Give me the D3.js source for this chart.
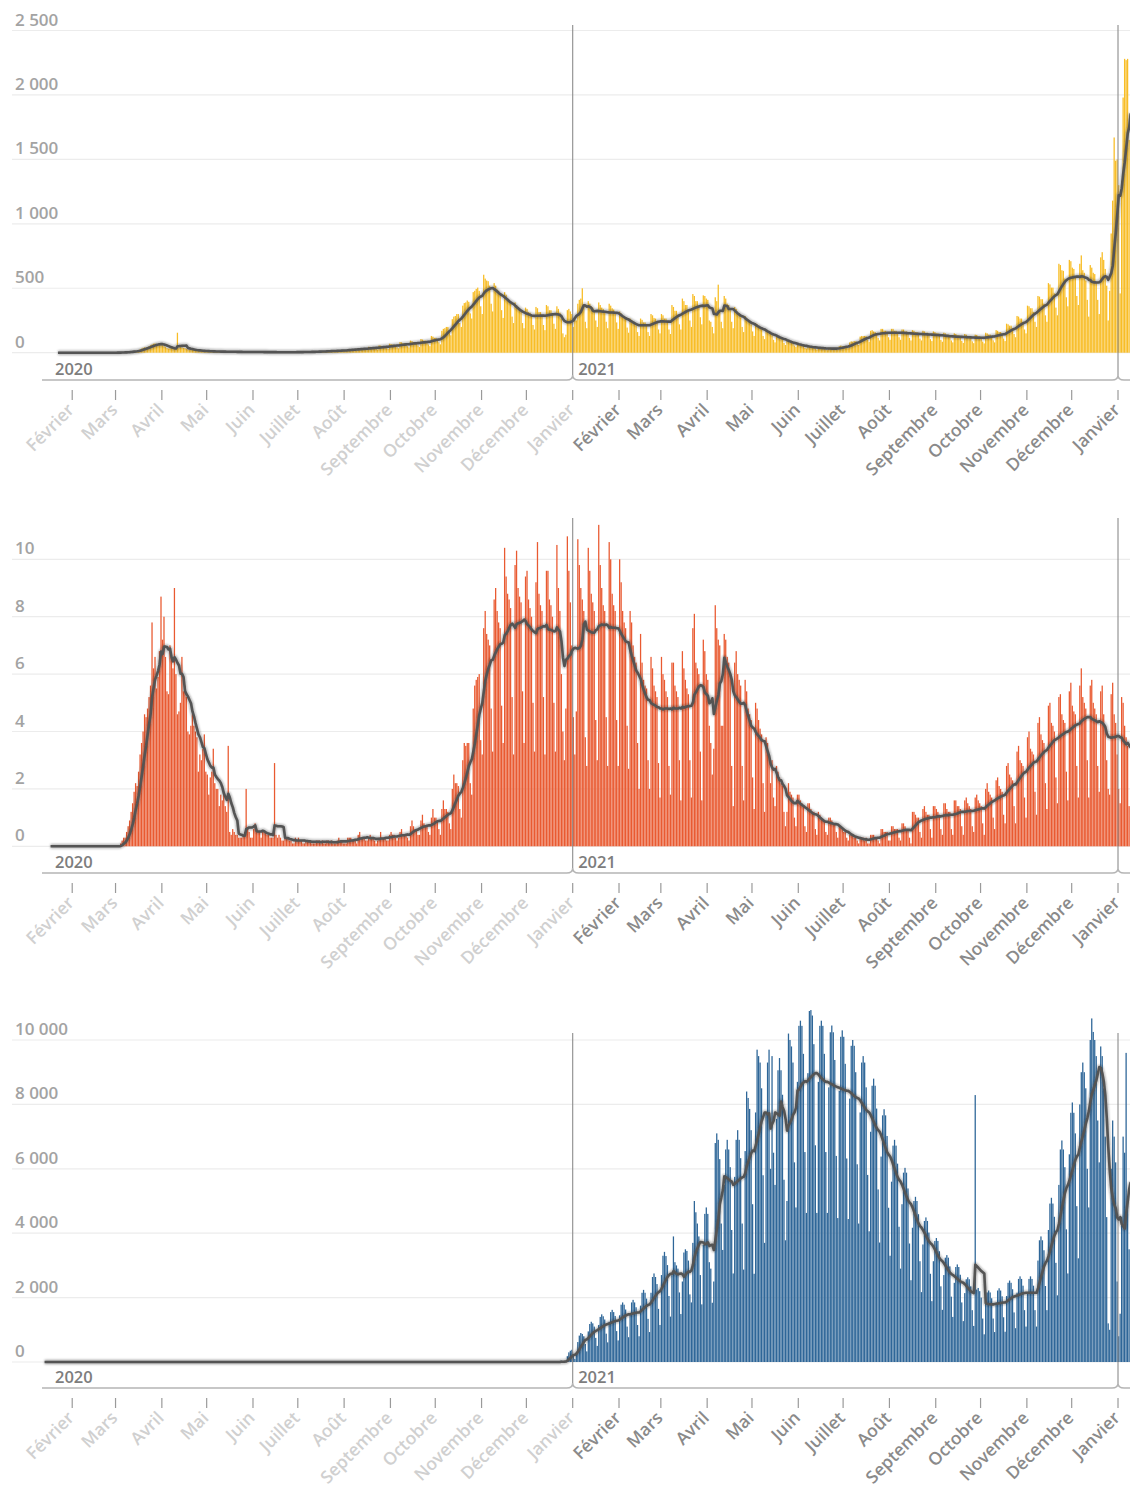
<!DOCTYPE html>
<html><head><meta charset="utf-8">
<script src="https://cdn.jsdelivr.net/npm/d3@7"></script>
<style>
html,body{margin:0;padding:0;background:#fff;}
svg{display:block;font-family:"Open Sans",sans-serif;}
</style></head><body>
<svg id="chart" width="1130" height="1490"></svg>
<script>
// ---------- DATA ----------
const monthNames = ["Janvier","Février","Mars","Avril","Mai","Juin","Juillet","Août","Septembre","Octobre","Novembre","Décembre"];
const yearLabels = ["2020","2021"];

const casesTicks = [0,500,1000,1500,2000,2500];
const deathsTicks = [0,2,4,6,8,10];
const vaccTicks = [0,2000,4000,6000,8000,10000];

// Panel 1 (yellow): daily values from 2020-01-22
const casesStart = "2020-01-22";
const casesDaily = [
0,0,0,0,0,
0,0,0,0,0,0,0, 0,0,0,0,0,0,0, 0,0,0,0,0,0,0, 0,0,0,0,0,0,0, 0,0,0,0,1,0,0,
1,2,2,3,4,3,4, 6,8,10,12,14,13,15, 20,26,32,38,42,40,44, 50,58,64,70,72,66,62, 70,66,58,50,44,36,32,
34,36,34,30,28,155,40, 45,40,38,35,30,25,22, 24,22,20,18,16,13,12, 15,14,13,12,11,9,8,
11,10,10,9,8,7,6, 9,9,8,8,7,6,5, 8,7,7,6,6,5,4, 7,6,6,5,5,4,4,
6,6,5,5,5,4,3, 5,5,5,4,4,3,3, 5,5,4,4,4,3,3, 5,5,4,4,4,3,3, 5,6,5,5,5,4,4,
7,8,7,7,7,5,5, 11,12,11,10,10,8,7, 15,16,15,14,14,11,10, 20,21,19,19,18,14,12,
28,29,27,27,25,19,17, 36,36,34,33,31,24,20, 46,45,42,42,38,29,24, 57,55,51,51,46,34,28, 70,67,62,62,56,42,34,
82,80,73,73,66,50,40, 94,90,83,83,75,56,45, 106,102,94,94,85,64,51, 130,125,115,115,105,80,65,
170,185,190,200,200,160,135, 260,280,285,300,300,230,200, 365,385,390,405,395,305,265, 470,480,495,505,480,360,300,
605,575,560,555,520,380,320, 540,520,490,480,450,330,270, 470,450,420,410,380,280,230, 390,370,350,340,320,230,190, 350,340,315,310,290,215,180,
355,345,315,315,290,215,175, 370,360,330,330,300,225,185, 360,340,310,260,150,120,140, 330,340,320,300,200,260,250,
// 2021
380,410,420,500,360,240,190, 400,380,360,350,330,250,200, 390,370,350,340,320,240,190, 380,365,345,335,315,235,185,
320,305,285,280,260,195,155, 265,255,235,235,210,160,130, 265,255,235,235,210,160,130, 300,290,270,265,245,180,150,
300,290,265,265,240,180,145, 370,355,325,325,295,220,180, 420,400,370,370,335,250,200, 455,440,400,400,365,275,220, 445,440,420,410,250,240,200,
150,430,400,528,330,240,190, 440,420,380,370,330,240,190, 355,340,310,305,275,200,160, 285,270,250,245,220,165,130,
230,220,200,200,180,130,105, 175,170,155,150,135,100,80, 135,125,115,115,100,75,60, 95,90,82,80,72,55,44, 68,64,58,58,52,38,32,
52,48,44,44,40,30,24, 42,40,36,36,33,24,20, 38,38,35,35,32,26,22, 50,55,50,52,50,40,35,
80,88,85,90,88,70,60, 125,130,128,130,128,100,85, 170,175,165,160,150,115,95, 185,185,170,170,155,120,100,
185,185,170,170,155,120,100, 180,180,165,165,150,115,95, 175,170,160,160,145,110,95, 170,165,155,155,140,105,90, 165,160,150,150,135,100,85,
155,150,140,140,125,95,80, 150,145,135,135,122,92,76, 145,140,130,130,118,88,74, 140,138,128,128,115,86,72,
155,150,140,140,128,96,80, 175,170,160,160,145,110,90, 225,220,210,210,190,145,120, 285,280,265,265,240,180,150,
365,360,345,345,315,240,200, 440,435,415,415,380,290,240, 540,530,505,505,460,350,290, 690,680,640,635,575,430,360, 720,710,660,650,590,440,370,
690,755,640,620,560,410,280, 680,660,620,610,550,410,300, 740,780,720,650,520,250,480, 925,1180,1670,1490,1500,1300,460,
// 2022
1335,1980,2280,2270,2280,1650,1200
];

// Panel 2 (red): daily values from 2020-01-17
const deathsStart = "2020-01-17";
const deathsDaily = [
0,0,0,
0,0,0,0,0,0,0, 0,0,0,0,0,0,0, 0,0,0,0,0,0,0, 0,0,0,0,0,0,0, 0,0,0,0,0,0,0, 0,0,0,0,0,0,0,
0,0,0.1,0.2,0.3,0.3,0.5, 0.7,0.9,1.2,1.5,1.9,2.2,2.1, 2.6,3.2,3.6,4.0,4.6,4.5,4.8, 5.2,5.6,7.8,6.2,6.6,5.5,5.9, 6.8,8.7,7.2,8.0,6.6,5.4,5.3,
7.0,6.6,6.2,9.0,6.0,4.6,4.7, 5.0,6.6,5.4,5.6,5.2,4.0,3.9, 4.2,4.6,4.2,4.0,3.8,2.6,3.2, 3.0,3.4,3.9,2.6,2.5,1.8,2.4,
2.6,3.4,2.2,2.0,2.0,1.4,1.8, 1.6,1.9,1.4,1.2,3.5,0.5,0.4, 0.6,0.5,0.4,0.4,0.3,0.3,0.3, 0.4,0.5,2.0,0.6,0.5,0.3,0.3,
0.6,0.8,0.6,0.5,0.5,0.3,0.5, 0.5,0.5,0.4,0.4,0.3,0.3,0.3, 2.9,0.4,0.3,0.4,0.3,0.2,0.2, 0.3,0.3,0.3,0.2,0.2,0.1,0.1, 0.3,0.2,0.3,0.2,0.2,0.1,0.1,
0.2,0.2,0.2,0.2,0.1,0.1,0.1, 0.2,0.2,0.2,0.1,0.2,0.1,0.1, 0.2,0.2,0.1,0.2,0.1,0.1,0.1, 0.2,0.3,0.2,0.2,0.1,0.1,0.1,
0.3,0.3,0.3,0.2,0.2,0.2,0.1, 0.4,0.5,0.3,0.3,0.3,0.2,0.2, 0.3,0.4,0.3,0.3,0.2,0.1,0.2, 0.3,0.5,0.3,0.3,0.3,0.2,0.2, 0.4,0.5,0.4,0.4,0.3,0.2,0.3,
0.5,0.6,0.4,0.4,0.4,0.3,0.2, 0.7,0.9,0.7,0.6,0.6,0.4,0.4, 0.9,1.1,0.8,0.7,0.7,0.5,0.4, 1.0,1.3,1.0,1.0,0.9,0.6,0.4,
1.3,1.6,1.3,1.3,1.2,0.8,0.6, 2.0,2.5,2.2,2.2,2.1,1.3,1.0, 3.0,3.6,3.5,3.6,3.6,2.2,1.8, 4.8,5.6,5.8,5.9,6.0,3.7,3.2,
7.6,8.2,7.4,7.2,7.0,4.8,3.3, 8.6,9.0,8.2,7.8,7.6,4.9,3.6, 10.4,9.4,8.8,8.6,8.3,5.2,3.2, 9.8,10.3,9.0,8.7,8.5,5.4,3.6, 9.4,9.6,8.6,8.3,8.0,5.0,3.3,
9.2,10.6,8.8,8.4,8.2,5.2,3.2, 9.6,9.6,8.6,8.4,8.0,5.0,3.3, 10.5,9.0,8.2,6.0,4.0,3.0,4.8, 10.8,9.6,8.5,7.0,4.5,3.2,4.7,
// 2021
10.7,9.8,9.0,8.6,8.2,3.8,2.8, 10.4,9.6,8.8,8.5,8.2,4.4,3.0, 11.2,9.8,9.0,8.4,8.2,4.5,2.8, 10.6,10.0,8.8,8.4,8.2,4.4,2.8,
10.0,9.2,8.2,7.8,7.6,4.2,2.7, 8.2,7.8,7.0,6.6,6.4,3.6,2.0, 7.4,6.4,5.8,5.6,5.5,3.0,2.0, 6.6,6.2,5.6,5.4,5.2,2.9,1.7,
6.6,6.0,5.8,5.4,5.2,2.8,1.8, 6.4,6.4,5.6,5.4,5.2,3.0,1.6, 6.8,6.2,5.8,5.5,5.3,3.0,1.7, 7.6,8.1,6.4,6.2,6.0,3.3,1.6, 7.2,6.8,6.0,5.8,4.2,3.6,2.5,
3.4,8.4,7.6,7.2,7.0,4.2,4.2, 7.4,7.2,6.6,6.4,6.0,2.8,1.4, 6.4,6.8,6.0,5.8,5.6,2.8,1.6, 5.8,5.4,4.8,4.6,4.4,2.4,1.3,
5.0,4.8,4.4,4.1,3.9,2.2,1.2, 3.8,3.6,3.2,2.2,3.0,1.7,1.4, 2.8,2.6,2.4,2.2,2.1,1.2,0.7, 1.2,2.2,1.9,1.8,1.7,1.0,0.7, 1.8,1.8,1.6,1.5,1.4,0.7,0.5,
1.5,1.5,1.3,1.2,1.2,0.6,0.4, 1.2,1.1,1.0,0.9,0.9,0.5,0.4, 1.0,1.0,0.9,0.8,0.8,0.5,0.3, 0.7,0.7,0.6,0.5,0.5,0.3,0.2,
0.4,0.4,0.4,0.3,0.3,0.2,0.1, 0.3,0.3,0.3,0.2,0.3,0.1,0.1, 0.4,0.4,0.4,0.3,0.3,0.2,0.1, 0.6,0.6,0.5,0.5,0.5,0.2,0.2,
0.7,0.7,0.6,0.6,0.6,0.3,0.2, 0.8,0.8,0.7,0.6,0.6,0.3,0.1, 1.2,1.2,1.1,1.0,1.0,0.5,0.3, 1.3,1.4,1.2,1.1,1.1,0.6,0.3, 1.4,1.4,1.3,1.2,1.1,0.6,0.4,
1.5,1.5,1.3,1.2,1.2,0.6,0.4, 1.6,1.6,1.4,1.4,1.3,0.7,0.4, 1.6,1.7,1.5,1.4,1.3,0.7,0.5, 1.7,1.8,1.6,1.5,1.4,0.8,0.4,
2.0,2.2,1.9,1.8,1.7,1.0,0.6, 2.3,2.4,2.1,2.0,1.9,1.1,0.8, 2.8,2.9,2.5,2.4,2.3,1.4,0.8, 3.3,3.5,3.0,2.9,2.8,1.7,1.0,
3.8,4.0,3.4,3.3,3.2,1.9,1.1, 4.3,4.5,3.9,3.7,3.6,2.2,1.3, 4.9,5.0,4.3,4.2,4.0,2.4,1.5, 5.2,5.3,4.6,4.4,4.3,2.6,1.6, 5.4,5.7,4.9,4.7,4.6,2.8,1.7,
5.6,6.2,5.2,5.0,4.8,3.0,1.7, 5.6,5.8,5.0,4.8,4.6,2.8,1.9, 5.4,5.6,4.6,4.2,3.0,2.0,1.8, 5.3,5.7,4.6,4.3,3.2,2.0,1.5,
// 2022
5.2,5.0,4.2,3.8,3.5,1.4,1.0
];

// Panel 3 (blue): daily values from 2020-01-13
const vaccStart = "2020-01-13";
const vaccDaily = [
0,0,0,0,0,0,0, 0,0,0,0,0,0,0, 0,0,0,0,0,0,0,
0,0,0,0,0,0,0, 0,0,0,0,0,0,0, 0,0,0,0,0,0,0, 0,0,0,0,0,0,0,
0,0,0,0,0,0,0, 0,0,0,0,0,0,0, 0,0,0,0,0,0,0, 0,0,0,0,0,0,0, 0,0,0,0,0,0,0,
0,0,0,0,0,0,0, 0,0,0,0,0,0,0, 0,0,0,0,0,0,0, 0,0,0,0,0,0,0,
0,0,0,0,0,0,0, 0,0,0,0,0,0,0, 0,0,0,0,0,0,0, 0,0,0,0,0,0,0,
0,0,0,0,0,0,0, 0,0,0,0,0,0,0, 0,0,0,0,0,0,0, 0,0,0,0,0,0,0, 0,0,0,0,0,0,0,
0,0,0,0,0,0,0, 0,0,0,0,0,0,0, 0,0,0,0,0,0,0, 0,0,0,0,0,0,0,
0,0,0,0,0,0,0, 0,0,0,0,0,0,0, 0,0,0,0,0,0,0, 0,0,0,0,0,0,0, 0,0,0,0,0,0,0,
0,0,0,0,0,0,0, 0,0,0,0,0,0,0, 0,0,0,0,0,0,0, 0,0,0,0,0,0,0,
0,0,0,0,0,0,0, 0,0,0,0,0,0,0, 0,0,0,0,0,0,0, 0,0,0,0,0,0,0,
0,0,0,0,0,0,0, 0,0,0,0,0,0,0, 0,0,0,0,0,0,0, 0,0,0,0,0,0,0, 0,0,0,0,0,0,0,
0,0,0,0,0,0,0, 0,0,0,0,0,0,0,
0,0,20,40,10,5,30, 180,300,350,380,250,100,260,
// 2021
620,820,900,870,800,560,330, 950,1180,1250,1200,1100,750,500, 1150,1400,1480,1420,1320,880,610, 1250,1550,1620,1550,1430,960,670,
1450,1780,1850,1780,1630,1100,770, 1500,1850,1930,1850,1700,1150,800, 1750,2150,2240,2150,1970,1340,930, 2150,2640,2750,2640,2420,1650,1150,
2700,3300,3420,3290,3010,2050,1410, 2700,3900,3100,3000,2900,2160,1490, 2500,3400,3500,3450,3150,2100,1850, 3700,5000,4650,4300,3900,2700,1790, 3640,4600,4800,4600,3100,2900,1840,
2500,6800,7100,6900,6300,4300,3480, 5500,6600,6900,6600,6050,4100,2750, 5750,6900,7200,6900,6330,4300,2870, 6550,8400,8200,7860,7200,4900,2740,
7750,9700,9500,9300,8500,5800,3700, 7750,9300,9700,6000,9500,6500,5500, 7550,9060,9440,9060,8300,5660,3780, 5000,10200,10000,9800,9300,6200,4800, 8700,10440,10600,10440,9570,6520,4630,
8970,10900,10930,10760,9870,6730,4630, 8700,10440,10600,10440,9570,6520,4630, 8530,10240,10450,10240,9380,6400,4470, 8420,10100,10300,10100,9260,6320,4440,
8180,9820,10000,9820,9000,6140,4300, 7750,9300,9500,9300,8530,5810,4060, 7150,8580,8800,8580,7870,5360,3710, 6380,7660,7850,7660,7020,4790,3300,
5600,6720,6900,6720,6160,4200,2900, 4900,5880,6030,5880,5390,3680,2540, 4170,5000,5130,5000,4590,3130,2170, 3650,4380,4490,4380,4020,2740,1890, 3130,3760,3850,3760,3440,2350,1620,
2700,3240,3320,3240,2970,2030,1400, 2460,2950,3030,2950,2710,1850,1270, 2140,2570,2630,2570,2350,1610,1120, 8290,2250,2300,2200,2000,1350,860,
1800,2160,2220,2160,1980,1350,930, 1850,2220,2290,2220,2040,1390,940, 2050,2460,2530,2460,2260,1540,1050, 2150,2580,2660,2580,2370,1610,1100,
2150,2580,2660,2580,2370,1610,1100, 3150,3780,3900,3780,3470,2360,1610, 4100,4920,5100,4920,4510,3080,2070, 5500,6600,6880,6600,6050,4120,2750, 6450,7740,8060,7740,7100,4840,3220,
8000,9000,9300,9000,8500,6000,4800, 10000,10670,10250,10000,9500,7500,6200, 9800,9500,8500,7000,4500,1200,1000, 6000,7500,7000,6200,2500,800,1500,
// 2022
4500,7000,6500,9600,5000,3500,3000
];

// ---------- CHART ----------
const svg = d3.select("#chart");
svg.append("rect").attr("width",1130).attr("height",1490).attr("fill","#fff");
const defs = svg.append("defs");
defs.append("filter").attr("id","soft").attr("x","-5%").attr("y","-5%").attr("width","110%").attr("height","110%")
  .append("feGaussianBlur").attr("stdDeviation",1.3);

const parse = d3.utcParse("%Y-%m-%d");
const x = d3.scaleUtc()
  .domain([new Date(Date.UTC(2020,0,1)), new Date(Date.UTC(2021,0,1))])
  .range([25.9, 572.7]);
const dayW = x(new Date(Date.UTC(2020,0,2))) - x(new Date(Date.UTC(2020,0,1)));
const rightEdge = 1130;
const yearStarts = [new Date(Date.UTC(2021,0,1)), new Date(Date.UTC(2022,0,1))];
const monthTicks = d3.utcMonth.range(new Date(Date.UTC(2020,1,1)), new Date(Date.UTC(2022,0,2)));
const lightUntil = new Date(Date.UTC(2021,0,1));
const fmt = d3.formatLocale({decimal:",", thousands:"\u00a0", grouping:[3], currency:["",""]}).format(",d");

const panels = [
  {values: casesDaily, start: casesStart, ticks: casesTicks, color:"#f8bd26", base:352.7, top:30.5, lineTop:25, band:380},
  {values: deathsDaily, start: deathsStart, ticks: deathsTicks, color:"#e95a31", base:846.3, top:559.3, lineTop:518, band:873},
  {values: vaccDaily, start: vaccStart, ticks: vaccTicks, color:"#2e6698", base:1362, top:1040, lineTop:1033, band:1388}
];

panels.forEach(p => {
  const g = svg.append("g");
  const y = d3.scaleLinear().domain([0, d3.max(p.ticks)]).range([p.base, p.top]);
  const s = parse(p.start);
  const pts = p.values.map((v,i) => ({date: d3.utcDay.offset(s, i), v}));
  pts.forEach((d,i) => {
    const w = p.values.slice(Math.max(0,i-6), i+1);
    d.avg = d3.mean(w);
  });

  // gridlines
  g.append("g").selectAll("line").data(p.ticks).join("line")
    .attr("x1",12).attr("x2",rightEdge)
    .attr("y1",d=>y(d)).attr("y2",d=>y(d))
    .attr("stroke","#ececec").attr("stroke-width",1.2);
  // y labels
  g.append("g").selectAll("text").data(p.ticks).join("text")
    .attr("x",15).attr("y",d=>y(d)-5)
    .attr("font-size",17).attr("font-weight",600).attr("fill","#a3a3a3")
    .text(d=>fmt(d));

  // bars
  g.append("g").selectAll("rect").data(pts.filter(d=>d.v>0)).join("rect")
    .attr("x",d=>x(d.date)).attr("width",dayW-0.22)
    .attr("y",d=>y(d.v)).attr("height",d=>p.base-y(d.v))
    .attr("fill",p.color);

  // year vertical lines
  g.append("g").selectAll("line").data(yearStarts).join("line")
    .attr("x1",d=>x(d)).attr("x2",d=>x(d))
    .attr("y1",p.lineTop).attr("y2",p.band-5)
    .attr("stroke","#8c8c8c").attr("stroke-width",1.1);

  // band line with notches
  let path = `M42,${p.band}`;
  yearStarts.forEach(d => {
    const bx = x(d);
    path += ` H${bx-6} Q${bx},${p.band} ${bx},${p.band-5} Q${bx},${p.band} ${bx+6},${p.band}`;
  });
  path += ` H${rightEdge}`;
  g.append("path").attr("d",path).attr("fill","none").attr("stroke","#b5b5b5").attr("stroke-width",1.5);

  // year labels
  g.append("g").selectAll("text").data(yearLabels).join("text")
    .attr("x",(d,i)=> i===0 ? 55 : x(yearStarts[0])+5.5)
    .attr("y",p.band-5)
    .attr("font-size",16.5).attr("font-weight",600).attr("fill","#7d7d7d")
    .text(d=>d);

  // month ticks
  g.append("g").selectAll("line").data(monthTicks).join("line")
    .attr("x1",d=>x(d)).attr("x2",d=>x(d))
    .attr("y1",p.band+10).attr("y2",p.band+20)
    .attr("stroke","#9a9a9a").attr("stroke-width",1.2);
  g.append("g").selectAll("text").data(monthTicks).join("text")
    .attr("text-anchor","end")
    .attr("transform",d=>`translate(${x(d)+3},${p.band+31}) rotate(-45)`)
    .attr("font-size",17.5).attr("font-weight",600)
    .attr("fill",d=> d <= lightUntil ? "#d0d0d0" : "#8a8a8a")
    .text(d=>monthNames[d.getUTCMonth()]);

  // 7-day average line
  const line = d3.line().x(d=>x(d.date)+dayW/2).y(d=>y(d.avg)).curve(d3.curveLinear);
  g.append("path").datum(pts).attr("d",line).attr("fill","none")
    .attr("stroke","#222").attr("stroke-opacity",0.35).attr("stroke-width",4.5)
    .attr("filter","url(#soft)").attr("stroke-linejoin","round");
  g.append("path").datum(pts).attr("d",line).attr("fill","none")
    .attr("stroke","#545454").attr("stroke-width",2.6).attr("stroke-linejoin","round");
});
</script>
</body></html>
